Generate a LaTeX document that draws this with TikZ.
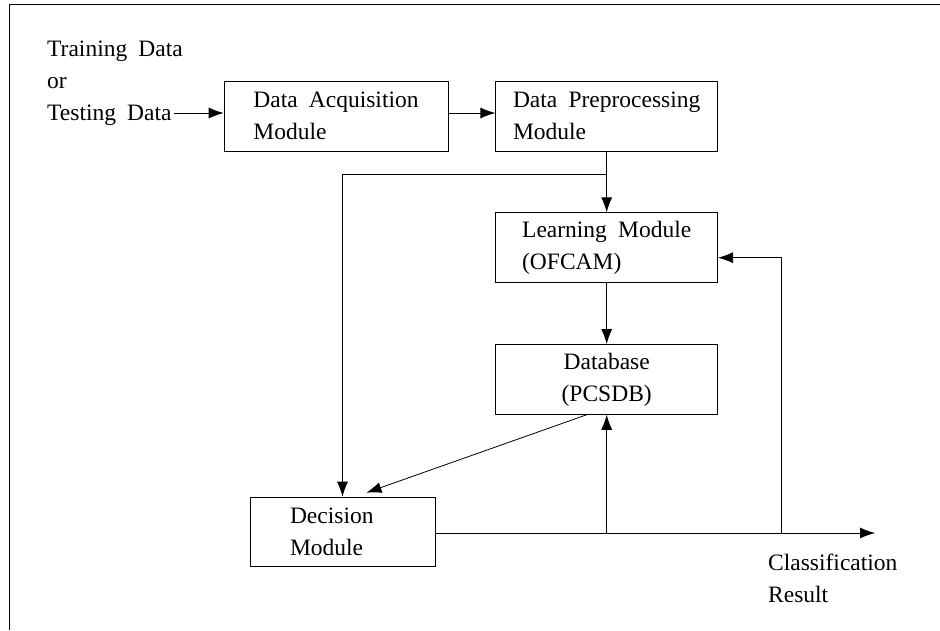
\documentclass[tikz,border=0pt]{standalone}
\usepackage{fontspec}
\setmainfont[WordSpace=1.9]{Liberation Serif}
\usetikzlibrary{positioning,arrows.meta}

\begin{document}
\begin{tikzpicture}[
    x=1pt, y=-1pt,
    node distance=61pt and 47pt,
    every node/.style={font=\fontsize{23.5}{32}\selectfont},
    box/.style={draw, line width=0.7pt, minimum width=222pt, minimum height=70pt, inner sep=0pt},
    arrow/.style={-{Latex[length=15pt,width=11pt]}, line width=0.8pt},
    line/.style={line width=0.8pt}
]
\useasboundingbox (0,0) rectangle (940,630);

% Frame
\draw[line] (9,630) -- (9,4) -- (940,4);

% Nodes
\node[anchor=west, align=left, inner sep=0pt] (input) at (47,83.5) {Training Data\\or\\Testing Data};
\node[box, minimum width=224pt, align=left] (acq) at (336,116) {Data Acquisition\\Module};
\node[box, align=left, right=of acq] (pre) {Data Preprocessing\\Module};
\node[box, align=left, below=of pre] (learn) {Learning Module\\(OFCAM)};
\node[box, align=center, below=of learn] (db) {Database\\(PCSDB)};
\node[box, minimum width=185pt, minimum height=69pt, align=left, text width=105pt, inner xsep=40pt] (dec) at (342.5,531.5) {Decision\\Module};
\node[anchor=west, align=left, inner sep=0pt] (result) at (768,578) {Classification\\Result};

\coordinate[below=23pt of pre] (split);
\coordinate (out) at (875,533);
\coordinate (fb) at (781,533);

% Arrows
\draw[arrow] ([xshift=-9pt,yshift=3pt]input.east |- acq.west) -- ([yshift=3pt]acq.west);
\draw[arrow] ([yshift=3pt]acq.east) -- ([yshift=3pt]pre.west);
\draw[arrow] (pre) -- (learn);
\draw[arrow] (split) -| (dec.north);
\draw[arrow] (learn) -- (db);
\draw[arrow] ([xshift=-20pt]db.south) -- ([xshift=24pt,yshift=4pt]dec.north);
\draw[arrow] (dec.east |- out) -- (out);
\draw[arrow] (db.south |- out) -- (db.south);
\draw[arrow] (fb) |- ([yshift=-10pt]learn.east);

\end{tikzpicture}
\end{document}
